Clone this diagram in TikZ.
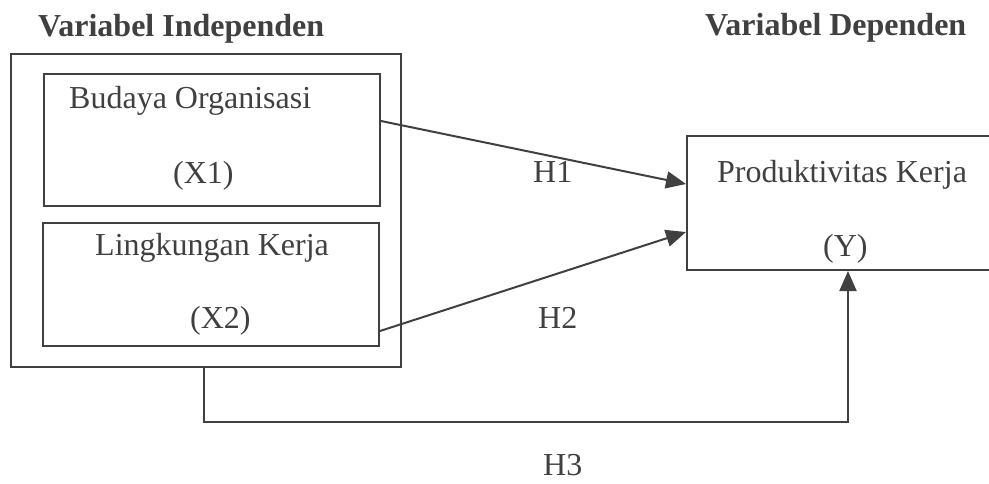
\documentclass[tikz,border=0pt]{standalone}
\usepackage{fontspec}
\setmainfont{Liberation Serif}
\usetikzlibrary{arrows.meta,calc}
\definecolor{ink}{HTML}{404040}
\begin{document}
\begin{tikzpicture}[x=1pt,y=-1pt,
  box/.style={draw=ink,line width=2pt,inner sep=0pt,anchor=north west},
  txt/.style={inner sep=0pt,anchor=base west,text=ink,font=\fontsize{32}{38}\selectfont},
  ttl/.style={txt,font=\fontsize{32}{38}\selectfont\bfseries},
  link/.style={draw=ink,line width=2pt,-{Triangle[length=20pt,width=17pt]}}]
\useasboundingbox (0,0) rectangle (989,483);
\clip (0,0) rectangle (989,483);
\node[box,minimum width=390pt,minimum height=313pt] (outer) at (10,53) {};
\node[box,minimum width=336pt,minimum height=132pt] (x1) at (43,73) {};
\node[box,minimum width=336pt,minimum height=123pt] (x2) at (42,222) {};
\node[box,minimum width=322pt,minimum height=134pt] (y) at (686,135) {};
\node[ttl] (t1) at (38,36) {Variabel Independen};
\node[ttl] (t2) at (705,35) {Variabel Dependen};
\node[txt] (x1a) at (69,108) {Budaya Organisasi};
\node[txt] (x1b) at (173,183) {(X1)};
\node[txt] (x2a) at (95,255) {Lingkungan Kerja};
\node[txt] (x2b) at (190,328) {(X2)};
\node[txt] (ya) at (717,182) {Produktivitas Kerja};
\node[txt] (yb) at (823,256) {(Y)};
\node[txt] (h1) at (533,182) {H1};
\node[txt] (h2) at (538,328) {H2};
\node[txt] (h3) at (543,475) {H3};
\coordinate (turn) at ($(outer.south)+(-2,54)$);
\draw[link] ([yshift=19pt]x1.east) -- ([yshift=19pt]y.west);
\draw[link] ([yshift=-46.5pt]x2.east) -- ([yshift=-29pt]y.west);
\draw[link] ([xshift=-2pt]outer.south) -- (turn) -- (turn -| y.south) -- (y.south);
\end{tikzpicture}
\end{document}
